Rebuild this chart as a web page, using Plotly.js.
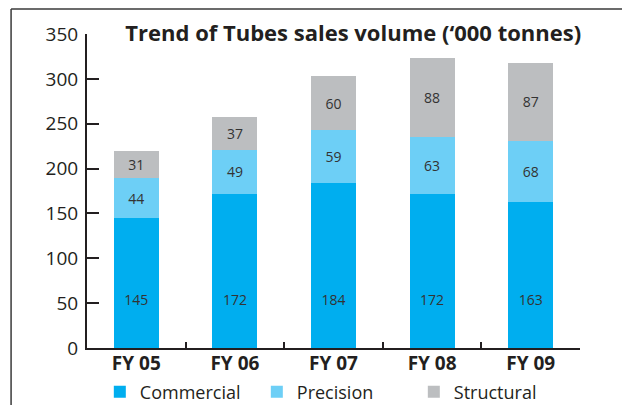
<!DOCTYPE html>
<html>
<head>
<meta charset="utf-8">
<script src="https://cdn.plot.ly/plotly-3.0.1.min.js"></script>
<style>html,body{margin:0;padding:0;background:#fff;}#chart{width:622px;height:405px;}</style>
</head>
<body>
<div id="chart"></div>
<script>
const categories = ["FY 05", "FY 06", "FY 07", "FY 08", "FY 09"];
const commercial = [145, 172, 184, 172, 163];
const precision = [44, 49, 59, 63, 68];
const structural = [31, 37, 60, 88, 87];
const seriesNames = ["Commercial", "Precision", "Structural"];
const seriesColors = ["#00AEEF", "#6DCFF6", "#BCBEC0"];
const yTicks = [0, 50, 100, 150, 200, 250, 300, 350];

const FONT = "Open Sans, sans-serif";
const series = [commercial, precision, structural];
const NB = "\u00a0";
const traces = series.map((vals, i) => ({
  type: "bar",
  name: seriesNames[i],
  x: categories,
  y: vals,
  // Commercial labels sit at a fixed height near the base, as in the source
  text: i === 0 ? vals.map(v => v + "<br>" + NB + "<br>" + NB) : vals.map(String),
  textposition: "inside",
  insidetextanchor: i === 0 ? "start" : "middle",
  textangle: 0,
  constraintext: "none",
  textfont: {family: FONT, size: 14, color: "#333333"},
  marker: {color: seriesColors[i], line: {width: 0}},
  hoverinfo: "skip"
}));

const layout = {
  width: 622, height: 405,
  margin: {l: 87, r: 42, t: 34, b: 57, autoexpand: false},
  paper_bgcolor: "#ffffff",
  plot_bgcolor: "#ffffff",
  barmode: "stack",
  bargap: 0.545,
  font: {family: FONT, color: "#231f20"},
  title: {
    text: "Trend of Tubes sales volume (‘000 tonnes)",
    font: {family: FONT, size: 22, weight: "bold", color: "#231f20"},
    xref: "paper", x: 0.54, xanchor: "center",
    yref: "container", y: 1 - 33/405, yanchor: "middle"
  },
  xaxis: {
    type: "category",
    showline: true, linecolor: "#231f20", linewidth: 2,
    ticks: "inside", tickson: "boundaries", ticklen: 6, tickwidth: 2, tickcolor: "#231f20",
    tickfont: {family: FONT, size: 19, weight: "bold", color: "#231f20"},
    ticklabelstandoff: -3,
    showgrid: false, zeroline: false, fixedrange: true
  },
  yaxis: {
    range: [0, 350],
    tickvals: yTicks,
    showline: true, linecolor: "#231f20", linewidth: 2,
    ticks: "inside", ticklen: 12, tickwidth: 2, tickcolor: "#231f20",
    tickfont: {family: FONT, size: 19, color: "#231f20"},
    ticklabelstandoff: 3,
    showgrid: false, zeroline: false, fixedrange: true
  },
  legend: {
    orientation: "h",
    traceorder: "normal",
    x: 0.026, xanchor: "left",
    y: -0.14, yanchor: "middle",
    entrywidth: 112, entrywidthmode: "pixels",
    font: {family: FONT, size: 18, color: "#231f20"},
    bgcolor: "rgba(0,0,0,0)"
  },
  shapes: [
    {type: "line", xref: "paper", yref: "paper", x0: -0.154, x1: 1.2, y0: 1.0796, y1: 1.0796,
     line: {color: "#3a3a3a", width: 1.5}},
    {type: "line", xref: "paper", yref: "paper", x0: -0.154, x1: -0.154, y0: 1.0796, y1: -0.3,
     line: {color: "#3a3a3a", width: 1.5}}
  ],
  showlegend: true
};

Plotly.newPlot("chart", traces, layout, {displayModeBar: false, staticPlot: true});
</script>
</body>
</html>
